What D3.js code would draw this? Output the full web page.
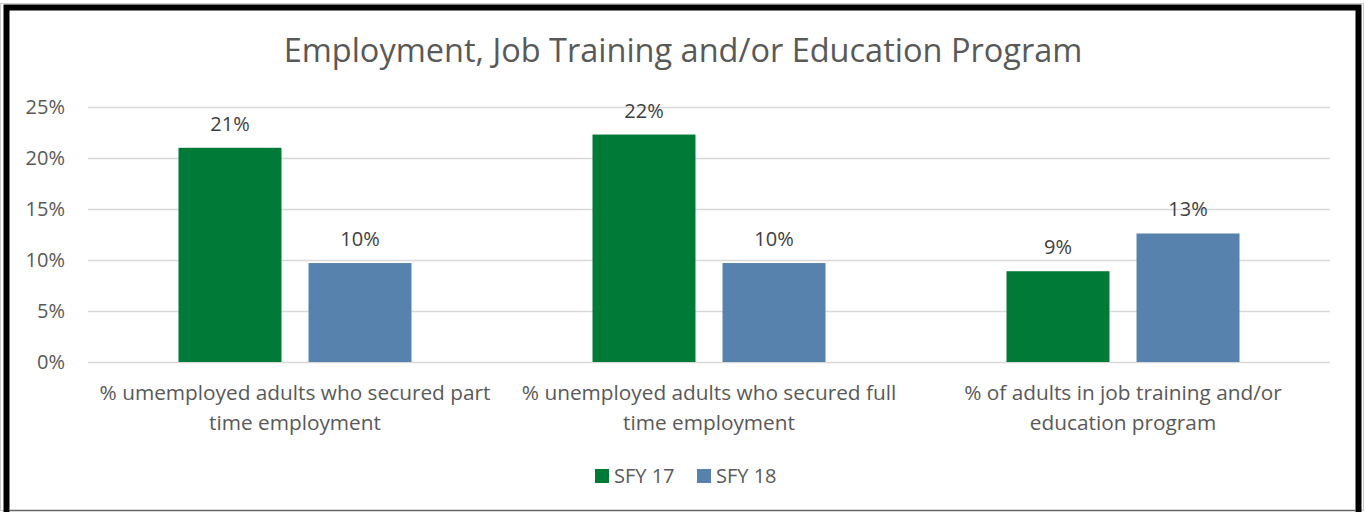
<!DOCTYPE html>
<html><head><meta charset="utf-8">
<script src="https://cdn.jsdelivr.net/npm/d3@7"></script>
<style>body{margin:0;background:#fff;} text{font-family:"Open Sans",sans-serif;}</style>
</head><body>
<svg id="c" width="1365" height="512"></svg>
<script>
const categories = [
  ["% umemployed adults who secured part", "time employment"],
  ["% unemployed adults who secured full", "time employment"],
  ["% of adults in job training and/or", "education program"]
];
const seriesNames = ["SFY 17", "SFY 18"];
const sfy17 = [21.0, 22.3, 8.9];
const sfy18 = [9.7, 9.7, 12.6];
const dataLabels17 = ["21%", "22%", "9%"];
const dataLabels18 = ["10%", "10%", "13%"];
const yTicks = [0, 5, 10, 15, 20, 25];
const colors = ["#007A37", "#5682AD"];
const FONT = '"Open Sans",sans-serif';

const svg = d3.select("#c");
// frame
svg.append("rect").attr("x",0.5).attr("y",3.5).attr("width",1363).attr("height",507).attr("fill","none").attr("stroke","#ccc").attr("stroke-width",1);
svg.append("rect").attr("x",6.5).attr("y",7.5).attr("width",1352).attr("height",508).attr("fill","none").attr("stroke","#000").attr("stroke-width",6);
svg.append("line").attr("x1",9).attr("x2",1356).attr("y1",510.5).attr("y2",510.5).attr("stroke","#666").attr("stroke-width",1.5);

svg.append("text").attr("x",683).attr("y",62).attr("text-anchor","middle")
  .attr("font-size",32.5).attr("fill","#595959").text("Employment, Job Training and/or Education Program");

const pL = 88, pR = 1330, pT = 107, pB = 362;
const y = d3.scaleLinear().domain([0,25]).range([pB, pT]);
const x0 = d3.scaleBand().domain(d3.range(categories.length)).range([pL, pR]);
const x1 = d3.scaleBand().domain([0,1]).range([0, x0.bandwidth()]).paddingInner(0.208).paddingOuter(0.696);

// gridlines
const yAxis = d3.axisLeft(y).tickValues(yTicks).tickSize(-(pR-pL)).tickFormat(d => d + "%").tickPadding(23);
const ga = svg.append("g").attr("transform",`translate(${pL},0)`).call(yAxis);
ga.select(".domain").remove();
ga.selectAll(".tick line").attr("stroke","#d9d9d9").attr("stroke-width",1.3);
ga.selectAll(".tick text").attr("font-size",20).attr("fill","#595959").style("font-family",FONT);

const series = [sfy17, sfy18];
const labels = [dataLabels17, dataLabels18];
series.forEach((vals, s) => {
  svg.append("g").selectAll("rect").data(vals).join("rect")
    .attr("x",(d,i)=>x0(i)+x1(s)).attr("width",x1.bandwidth())
    .attr("y",d=>y(d)).attr("height",d=>y(0)-y(d)).attr("fill",colors[s]);
  svg.append("g").selectAll("text").data(vals).join("text")
    .attr("x",(d,i)=>x0(i)+x1(s)+x1.bandwidth()/2).attr("y",d=>y(d)-17)
    .attr("text-anchor","middle").attr("font-size",20).attr("fill","#404040")
    .text((d,i)=>labels[s][i]);
});

// category labels
const cg = svg.append("g");
categories.forEach((lines,i)=>{
  const t = cg.append("text").attr("x",x0(i)+x0.bandwidth()/2).attr("y",400).attr("text-anchor","middle")
    .attr("font-size",20.8).attr("fill","#595959");
  lines.forEach((l,j)=>t.append("tspan").attr("x",x0(i)+x0.bandwidth()/2).attr("dy",j?30:0).text(l));
});

// legend
const lg = svg.append("g");
const legX = [595, 697];
seriesNames.forEach((n,i)=>{
  lg.append("rect").attr("x",legX[i]).attr("y",469).attr("width",14).attr("height",14).attr("fill",colors[i]);
  lg.append("text").attr("x",legX[i]+19).attr("y",483).attr("font-size",20).attr("fill","#595959").text(n);
});
</script>
</body></html>
